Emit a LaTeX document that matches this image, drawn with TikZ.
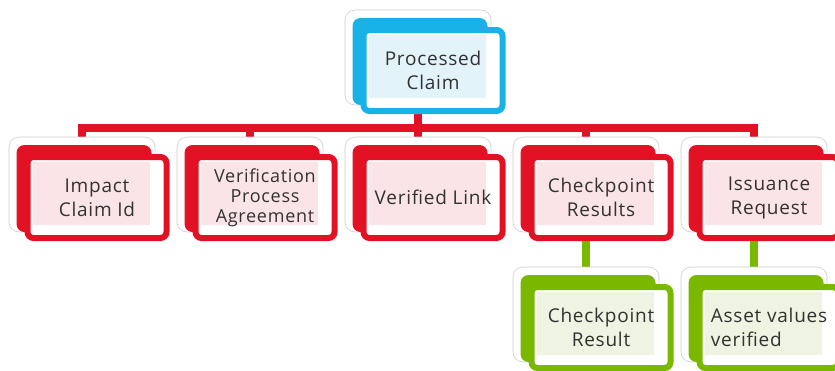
\documentclass[tikz,border=0pt]{standalone}
\usepackage{fontspec}
\setmainfont{Open Sans}[LetterSpace=4]
\definecolor{cred}{RGB}{226,18,36}
\definecolor{cblue}{RGB}{25,178,230}
\definecolor{cgreen}{RGB}{122,184,0}
\definecolor{pred}{RGB}{251,228,229}
\definecolor{pblue}{RGB}{226,243,250}
\definecolor{pgreen}{RGB}{238,243,226}
\definecolor{ctext}{RGB}{50,50,50}
\definecolor{cgray}{RGB}{205,205,205}
\pgfdeclarelayer{bg}
\pgfsetlayers{bg,main}
\tikzset{
  graybox/.style={draw=cgray, line width=0.6pt, fill=white, rounded corners=10pt, minimum width=146pt, minimum height=95pt, inner sep=0pt},
  backbox/.style={rounded corners=8pt, minimum width=135pt, minimum height=87pt, inner sep=0pt},
  frontbox/.style={line width=6pt, fill=white, rounded corners=6pt, minimum width=139pt, minimum height=81pt, inner sep=0pt},
  palebox/.style={minimum width=117pt, minimum height=63pt, inner sep=0pt},
  txt/.style={text=ctext, font=\fontsize{19}{24}\selectfont, align=center, inner sep=0pt},
  smalltxt/.style={font=\fontsize{18}{20}\selectfont},
  conn/.style={line width=8pt},
}
\newcommand{\smnode}[7]{%
  \node[graybox] (#1) at (#2,#3) {};
  \node[backbox, fill=#4] (#1b) at (#2+2,#3+4) {};
  \node[frontbox, draw=#4] (#1f) at (#2+15,#3+13) {};
  \node[palebox, fill=#5] (#1p) at (#2+9,#3+9) {};
  \node[txt, #7] (#1t) at (#2+15,#3+13) {#6};
}
\begin{document}
\begin{tikzpicture}[x=1pt,y=-1pt]
\useasboundingbox (0,0) rectangle (835,370);
\smnode{g0}{418}{57.5}{cblue}{pblue}{Processed\\Claim}{}
\smnode{g1}{82}{184.5}{cred}{pred}{Impact\\Claim Id}{}
\smnode{g2}{250}{184.5}{cred}{pred}{Verification\\Process\\Agreement}{smalltxt}
\smnode{g3}{418}{184.5}{cred}{pred}{Verified Link}{}
\smnode{g4}{586}{184.5}{cred}{pred}{Checkpoint\\Results}{}
\smnode{g5}{754}{184.5}{cred}{pred}{Issuance\\Request}{}
\smnode{g6}{586}{314.5}{cgreen}{pgreen}{Checkpoint\\Result}{}
\smnode{g7}{754}{314.5}{cgreen}{pgreen}{Asset values\\verified}{align=left}
\coordinate (bar) at (0,128);
\begin{pgfonlayer}{bg}
  \draw[conn, cred] (g0.center) -- (g0.center |- bar);
  \draw[conn, cred, line cap=rect] (g1.center |- bar) -- (g5.center |- bar);
  \foreach \k in {g1,g2,g3,g4,g5} {
    \draw[conn, cred] (\k.center |- bar) -- (\k.center);
  }
  \draw[conn, cgreen] (g4.center) -- (g6.center);
  \draw[conn, cgreen] (g5.center) -- (g7.center);
\end{pgfonlayer}
\end{tikzpicture}
\end{document}
